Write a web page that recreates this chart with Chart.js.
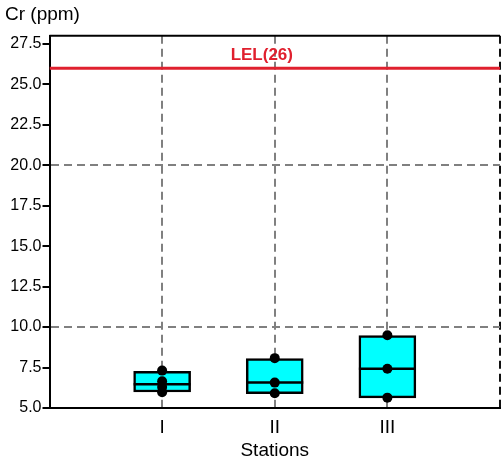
<!DOCTYPE html>
<html>
<head>
<meta charset="utf-8">
<script src="https://cdn.jsdelivr.net/npm/chart.js@4/dist/chart.umd.min.js"></script>
<style>
  html, body { margin: 0; padding: 0; background: #fff; }
  #wrap { width: 504px; height: 472px; }
</style>
</head>
<body>
<div id="wrap"><canvas id="myChart" width="504" height="472"></canvas></div>
<script>
// stations on the x axis (positions 1..3)
const stations = ['I', 'II', 'III'];
const stationPos = [1, 2, 3];

// box ends and medians (ppm)
const boxLow = [5.99, 5.88, 5.63];
const boxHigh = [7.27, 8.06, 9.48];
const medians = [6.47, 6.58, 7.43];

// individual samples per station
const samplesI = [7.31, 6.65, 6.30, 5.98];
const samplesII = [8.08, 6.57, 5.91];
const samplesIII = [9.50, 7.42, 5.64];

// guideline
const lelValue = 26;
const lelLabel = 'LEL(26)';

const yTicks = [5, 7.5, 10, 12.5, 15, 17.5, 20, 22.5, 25, 27.5];

const samplePoints = [];
[samplesI, samplesII, samplesIII].forEach((arr, i) => {
  arr.forEach(v => samplePoints.push({ x: stationPos[i], y: v }));
});

// draws the LEL label and top frame line
const extrasPlugin = {
  id: 'extras',
  afterDatasetsDraw(chart) {
    const { ctx, chartArea, scales } = chart;
    ctx.save();
    ctx.strokeStyle = '#000';
    ctx.lineWidth = 2;
    ctx.beginPath();
    ctx.moveTo(chartArea.left, chartArea.top);
    ctx.lineTo(chartArea.right, chartArea.top);
    ctx.stroke();

    ctx.fillStyle = '#E0202E';
    ctx.font = 'bold 17px "Liberation Sans", Arial, sans-serif';
    ctx.textAlign = 'center';
    ctx.textBaseline = 'middle';
    ctx.fillText(lelLabel, scales.x.getPixelForValue(1.885), scales.y.getPixelForValue(lelValue) - 13);
    ctx.restore();
  }
};

const ctx = document.getElementById('myChart').getContext('2d');
new Chart(ctx, {
  type: 'bar',
  data: {
    datasets: [
      {
        type: 'scatter',
        data: samplePoints,
        pointRadius: 5,
        pointBackgroundColor: '#000',
        pointBorderColor: '#000',
        pointBorderWidth: 0
      },
      {
        type: 'line',
        showLine: false,
        data: stationPos.map((x, i) => ({ x: x, y: medians[i] })),
        pointStyle: 'line',
        pointRadius: 28.5,
        pointBorderWidth: 2.5,
        pointBorderColor: '#000'
      },
      {
        type: 'bar',
        data: stationPos.map((x, i) => ({ x: x, y: [boxLow[i], boxHigh[i]] })),
        backgroundColor: '#00FFFF',
        borderColor: '#000',
        borderWidth: 2.5,
        borderSkipped: false,
        barThickness: 57
      },
      {
        type: 'line',
        data: [{ x: 0, y: lelValue }, { x: 4, y: lelValue }],
        borderColor: '#E0202E',
        borderWidth: 3,
        pointRadius: 0
      }
    ]
  },
  options: {
    responsive: false,
    animation: false,
    layout: { autoPadding: false, padding: { left: 5, right: 4, top: 0, bottom: 0 } },
    plugins: {
      legend: { display: false },
      tooltip: { enabled: false },
      title: {
        display: true,
        text: 'Cr (ppm)',
        align: 'start',
        color: '#000',
        font: { family: '"Liberation Sans", Arial, sans-serif', size: 19, weight: 'normal' },
        padding: { top: 3, bottom: 10 }
      }
    },
    scales: {
      x: {
        type: 'linear',
        min: 0,
        max: 4,
        offset: false,
        afterBuildTicks(scale) {
          scale.ticks = [0, 1, 2, 3, 4].map(v => ({ value: v }));
        },
        afterFit(scale) {
          scale.height = 64;
          scale.paddingLeft = 0;
          scale.paddingRight = 0;
        },
        ticks: {
          color: '#000',
          padding: 8,
          font: { family: '"Liberation Sans", Arial, sans-serif', size: 19 },
          callback(value) {
            const i = stationPos.indexOf(value);
            return i >= 0 ? stations[i] : '';
          }
        },
        grid: {
          offset: false,
          drawTicks: false,
          lineWidth: 2,
          color(c) {
            const v = c.tick ? c.tick.value : null;
            if (v === 0) return 'rgba(0,0,0,0)';
            if (v === 4) return '#111';
            return '#808080';
          }
        },
        border: { display: true, color: '#000', width: 2, dash: [8, 5] },
        title: {
          display: true,
          text: 'Stations',
          color: '#000',
          font: { family: '"Liberation Sans", Arial, sans-serif', size: 19 },
          padding: { top: 0, bottom: 10 }
        }
      },
      y: {
        type: 'linear',
        min: 5,
        max: 28,
        afterBuildTicks(scale) {
          scale.ticks = yTicks.map(v => ({ value: v }));
        },
        afterFit(scale) { scale.width = 44.5; },
        ticks: {
          color: '#000',
          padding: 1,
          font: { family: '"Liberation Sans", Arial, sans-serif', size: 16 },
          callback(value) { return Number(value).toFixed(1); }
        },
        grid: {
          lineWidth: 2,
          tickLength: 7,
          tickWidth: 2,
          tickColor: '#000',
          tickBorderDash: [],
          color(c) {
            const v = c.tick ? c.tick.value : null;
            return (v === 10 || v === 20) ? '#808080' : 'rgba(0,0,0,0)';
          }
        },
        border: { display: true, color: '#000', width: 2, dash: [8, 5] }
      }
    }
  },
  plugins: [extrasPlugin]
});
</script>
</body>
</html>
